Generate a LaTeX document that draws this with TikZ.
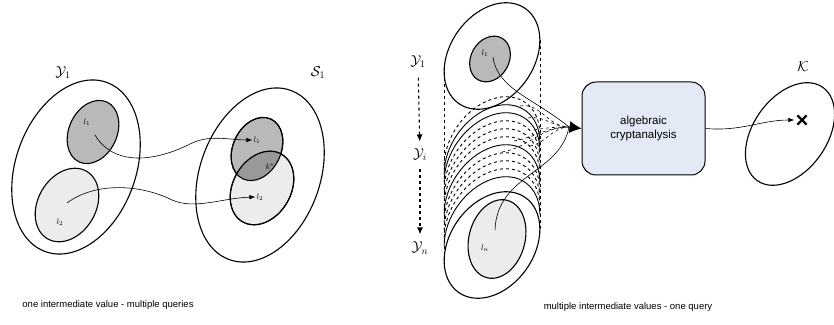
\documentclass[tikz,border=0pt]{standalone}
\usepackage{fontspec}
\setmainfont{Liberation Sans}
\usetikzlibrary{arrows.meta, shapes.misc}
\definecolor{boxblue}{RGB}{227,234,246}

\begin{document}
\begin{tikzpicture}[x=1pt, y=1pt,
  set/.style={line width=1.1pt},
  hi/.style={set, fill=gray!55},
  lo/.style={set, fill=gray!15},
  flow/.style={line width=0.6pt, -{Latex[length=6pt,width=4.5pt]}},
  into/.style={line width=0.6pt, -{Latex[length=12pt,width=12pt]}},
  dflow/.style={line width=1.1pt, dashed, -{Latex[length=7pt,width=6pt]}},
  lbl/.style={font=\footnotesize, inner sep=1pt},
  setname/.style={font=\Large},
  captext/.style={font=\fontsize{9.5}{11}\selectfont},
  box/.style={draw, line width=1pt, rounded corners=14pt, fill=boxblue,
    minimum width=123pt, minimum height=93pt, align=center,
    font=\fontsize{11.5}{13.5}\selectfont}]
  \useasboundingbox (0,0) rectangle (834,324);

  % ---- links: ein Zwischenwert, mehrere Abfragen
  \draw[set, shift={(76,157)}, rotate=70] (0,0) ellipse (90 and 60);
  \draw[hi, shift={(93,192)}, rotate=65] (0,0) ellipse (33 and 24);
  \draw[lo, shift={(67,119)}, rotate=60] (0,0) ellipse (39 and 29);

  \draw[set, shift={(260,149)}, rotate=70] (0,0) ellipse (90 and 60);
  \draw[hi, shift={(257,175)}, rotate=65] (0,0) ellipse (33 and 24);
  \draw[lo, shift={(262,136)}, rotate=60] (0,0) ellipse (39 and 29);
  % Schnittmenge dunkler
  \begin{scope}
    \clip[shift={(257,175)}, rotate=65] (0,0) ellipse (33 and 24);
    \fill[gray!80, shift={(262,136)}, rotate=60] (0,0) ellipse (39 and 29);
  \end{scope}
  \draw[set, shift={(257,175)}, rotate=65] (0,0) ellipse (33 and 24);
  \draw[set, shift={(262,136)}, rotate=60] (0,0) ellipse (39 and 29);

  \node[setname] (Y1) at (63,251) {$\mathcal{Y}_1$};
  \node[setname] (S1) at (318,251) {$\mathcal{S}_1$};
  \node[lbl] (la) at (87,202) {$l_1$};
  \node[lbl] (lb) at (60,102) {$l_2$};
  \node[lbl] (lc) at (257,184) {$l_1$};
  \node[lbl] (ld) at (260,127) {$l_2$};
  \node[lbl] (ks) at (270,157) {$k^*$};

  \coordinate (a1) at (95,189);
  \coordinate (b1) at (67,121);
  \draw[flow] (a1) .. controls (112,160) and (150,160) .. (190,180)
    .. controls (210,190) and (228,184) .. (lc.west);
  \draw[flow] (b1) .. controls (95,142) and (140,140) .. (172,124)
    .. controls (195,114) and (222,126) .. (ld.west);

  \node[captext] (capL) at (108,19) {one intermediate value - multiple queries};

  % ---- rechts: mehrere Zwischenwerte, eine Abfrage
  \foreach \cy/\sty in {174/dashed, 166/solid, 158/solid, 150/dashed,
      142/dashed, 134/dashed, 126/solid, 118/dashed, 110/dashed,
      102/dashed, 94/solid}
    \draw[line width=0.9pt, \sty, shift={(492,\cy)}, rotate=55]
      (-46:58 and 42) arc[start angle=-46, end angle=134,
      x radius=58, y radius=42];
  % Tangenten des Stapels
  \draw[dashed, line width=0.6pt] (444.1,252.3) -- (444.1,63.3);
  \draw[dashed, line width=0.6pt] (539.9,283.7) -- (539.9,94.7);

  \draw[set, shift={(492,268)}, rotate=55] (0,0) ellipse (58 and 42);
  \draw[hi, shift={(490,265)}, rotate=60] (0,0) ellipse (24 and 19);
  \draw[set, shift={(492,79)}, rotate=55] (0,0) ellipse (58 and 42);
  \draw[lo, shift={(497,85)}, rotate=75] (0,0) ellipse (40 and 28);

  \node[lbl] (lt) at (485,271) {$l_1$};
  \node[lbl] (ln) at (485,76) {$l_n$};
  \node[setname] (Yr1) at (418,262) {$\mathcal{Y}_1$};
  \node[setname] (Yri) at (420,169) {$\mathcal{Y}_i$};
  \node[setname] (Yrn) at (420,76) {$\mathcal{Y}_n$};
  \draw[dflow, shorten <=6pt, shorten >=4pt] (Yr1) -- (Yri);
  \draw[dflow, shorten <=4pt, shorten >=4pt] (Yri) -- (Yrn);

  \node[box] (alg) at (643.5,195.5) {algebraic\\cryptanalysis};
  \coordinate (mrg) at (569,197);

  \coordinate (t1) at (493,267);
  \coordinate (tn) at (495,94);
  \coordinate (d1) at (520,218);
  \coordinate (d2) at (528,206);
  \coordinate (d3) at (534,194);
  \coordinate (d4) at (514,183);
  \coordinate (d5) at (502,172);
  \coordinate (d6) at (530,178);
  \foreach \p in {d1,d2,d3,d4,d5,d6}
    \draw[line width=0.6pt, dashed] (\p) to[out=10, in=180] (mrg);
  \draw[line width=0.6pt] (t1) .. controls (497,235) and (535,225) .. (mrg);
  \draw[line width=0.6pt] (tn) .. controls (497,150) and (560,150) .. (mrg);
  \draw[into] (mrg) -- (alg.west);

  % Schluesselraum
  \draw[set, shift={(790,190)}, rotate=55] (0,0) ellipse (57 and 37);
  \node[setname] (K) at (803,257) {$\mathcal{K}$};
  \node[cross out, draw, line width=2.2pt, minimum size=7pt,
    inner sep=0pt] (key) at (802,204) {};
  \draw[flow, shorten >=3pt] (alg.east) to[out=-5, in=180] (key.west);

  \node[captext] (capR) at (628,17) {multiple intermediate values - one query};
\end{tikzpicture}
\end{document}
